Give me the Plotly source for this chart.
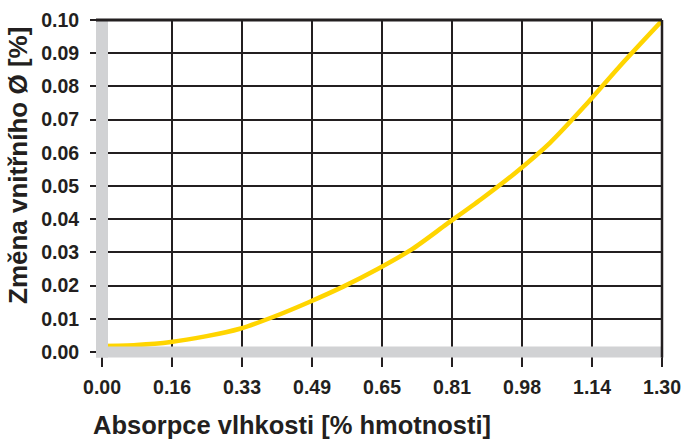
import plotly.graph_objects as go

# Data
absorpce = [0.0, 0.08, 0.16, 0.24, 0.32, 0.40, 0.48, 0.56, 0.64, 0.72,
            0.80, 0.88, 0.96, 1.04, 1.12, 1.20, 1.30]
zmena = [0.0018, 0.0021, 0.0030, 0.0047, 0.0070, 0.0107, 0.0150, 0.0197,
         0.0250, 0.0310, 0.0385, 0.0460, 0.0540, 0.0630, 0.0740, 0.0858, 0.0998]

x_ticks = [0.0, 0.1625, 0.325, 0.4875, 0.65, 0.8125, 0.975, 1.1375, 1.30]
x_tick_labels = ["0.00", "0.16", "0.33", "0.49", "0.65", "0.81", "0.98", "1.14", "1.30"]
y_ticks = [0.00, 0.01, 0.02, 0.03, 0.04, 0.05, 0.06, 0.07, 0.08, 0.09, 0.10]
y_tick_labels = ["%.2f" % v for v in y_ticks]

x_title = "Absorpce vlhkosti [% hmotnosti]"
y_title = "Změna vnitřního Ø [%]"

W, H = 685, 439
L, R, T, B = 102, 23, 20, 87
PW, PH = W - L - R, H - T - B

ink = "#231f20"
gray = "#d1d2d4"
yellow = "#ffd500"
font = "Liberation Sans"

fig = go.Figure()
fig.add_trace(go.Scatter(
    x=absorpce, y=zmena, mode="lines",
    line=dict(color=yellow, width=4.5, shape="spline", smoothing=0.8),
    hoverinfo="skip", showlegend=False,
))

fig.update_layout(
    width=W, height=H, autosize=False,
    margin=dict(l=L, r=R, t=T, b=B, pad=0, autoexpand=False),
    paper_bgcolor="white", plot_bgcolor="white",
    showlegend=False,
    font=dict(family=font, color=ink),
    xaxis=dict(
        range=[0, 1.30], tickvals=x_ticks, ticktext=x_tick_labels,
        showgrid=True, gridcolor=ink, gridwidth=1.7, zeroline=False,
        showline=False, ticks="outside", ticklen=14, tickwidth=1.5, tickcolor=ink,
        tickfont=dict(family=font, size=19.5, color=ink, weight="bold"),
        ticklabelstandoff=4, automargin=False,
        fixedrange=True,
    ),
    yaxis=dict(
        range=[0, 0.10], tickvals=y_ticks, ticktext=y_tick_labels,
        showgrid=True, gridcolor=ink, gridwidth=1.7, zeroline=False,
        showline=False, ticks="outside", ticklen=11, tickwidth=1.5, tickcolor=ink,
        tickfont=dict(family=font, size=19.5, color=ink, weight="bold"),
        ticklabelstandoff=7, automargin=False,
        fixedrange=True,
    ),
    shapes=[
        # gray axis bars
        dict(type="rect", xref="paper", yref="paper", layer="above",
             x0=-6 / PW, x1=6 / PW, y0=-5.5 / PH, y1=1, line=dict(width=0), fillcolor=gray),
        dict(type="rect", xref="paper", yref="paper", layer="above",
             x0=-6 / PW, x1=1, y0=-5.5 / PH, y1=5.5 / PH, line=dict(width=0), fillcolor=gray),
        # top and right border
        dict(type="line", xref="paper", yref="paper", layer="above",
             x0=-6 / PW, x1=1, y0=1, y1=1, line=dict(color=ink, width=3)),
        dict(type="line", xref="paper", yref="paper", layer="above",
             x0=1, x1=1, y0=-5.5 / PH, y1=1, line=dict(color=ink, width=2.5)),
    ],
    annotations=[
        dict(text=x_title, xref="paper", yref="paper",
             x=(91 - L) / PW, y=-(425 - (H - B)) / PH, xanchor="left", yanchor="middle",
             showarrow=False, font=dict(family=font, size=25.5, color=ink, weight="bold")),
        dict(text=y_title, xref="paper", yref="paper", textangle=-90,
             x=(18 - L) / PW, y=((H - B) - 166) / PH, xanchor="center", yanchor="middle",
             showarrow=False, font=dict(family=font, size=26, color=ink, weight="bold")),
    ],
)

fig.write_html(
    "out.html",
    config={"displayModeBar": False, "responsive": False},
    post_script="document.body.style.margin='0';document.body.style.padding='0';document.body.style.overflow='hidden';",
)
